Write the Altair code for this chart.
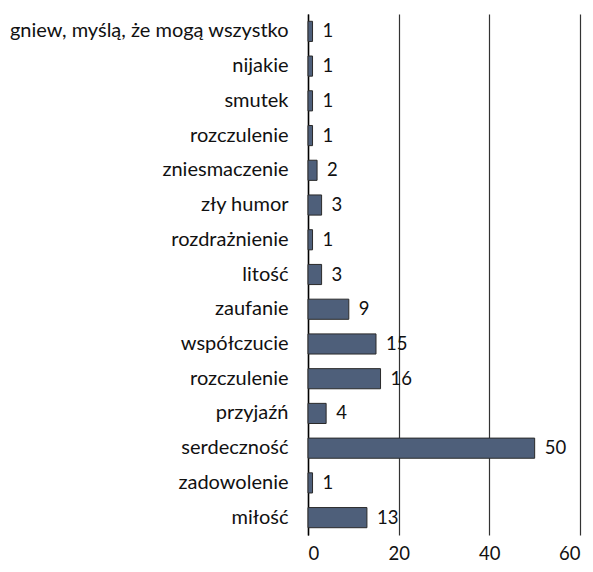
import altair as alt
import pandas as pd

categories = [
    "gniew, myślą, że mogą wszystko",
    "nijakie",
    "smutek",
    "rozczulenie",
    "zniesmaczenie",
    "zły humor",
    "rozdrażnienie",
    "litość",
    "zaufanie ",
    "współczucie",
    "rozczulenie",
    "przyjaźń",
    "serdeczność",
    "zadowolenie",
    "miłość",
]
values = [1, 1, 1, 1, 2, 3, 1, 3, 9, 15, 16, 4, 50, 1, 13]

df = pd.DataFrame({
    "idx": list(range(len(categories))),
    "cat": categories,
    "val": values,
})

label_expr = "[" + ",".join('"' + c + '"' for c in categories) + "][datum.value]"

FONT = "Lato"
FS = 18.5

y = alt.Y("idx:O", axis=alt.Axis(
    title=None, labelExpr=label_expr, ticks=False, domain=True,
    domainColor="#000000", domainWidth=1.5, labelPadding=20,
    labelFontSize=20, labelFont=FONT, labelColor="#111111", labelLimit=400,
), scale=alt.Scale(paddingInner=0.42, paddingOuter=0.21))

x = alt.X("val:Q", scale=alt.Scale(domain=[0, 60]), axis=alt.Axis(
    title=None, values=[0, 20, 40, 60], ticks=False, domain=False,
    grid=True, gridColor="#333333", gridWidth=1.2,
    labelFontSize=FS, labelFont=FONT, labelColor="#111111", labelPadding=9,
))

bars = alt.Chart(df).mark_bar(color="#4E5F7A", stroke="#2a2a2a", strokeWidth=1).encode(
    x=x, y=y
)

labels = alt.Chart(df).mark_text(
    align="left", baseline="middle", dx=10, fontSize=FS, font=FONT, color="#111111"
).encode(x="val:Q", y="idx:O", text="val:Q")

chart = (bars + labels).properties(
    width=272, height=521, padding={"left": 300, "top": 6, "right": 5, "bottom": 29},
    autosize=alt.AutoSizeParams(type="none"),
).configure_view(stroke=None)

chart.save("out.html", embed_options={"renderer": "svg", "actions": False})
